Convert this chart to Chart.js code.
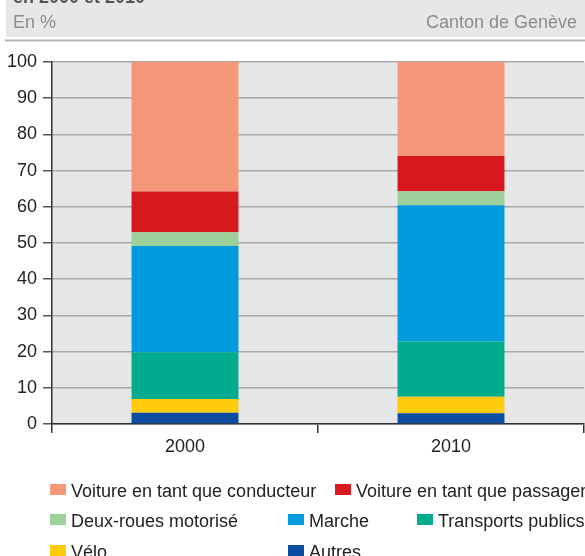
<!DOCTYPE html>
<html>
<head>
<meta charset="utf-8">
<script src="https://cdn.jsdelivr.net/npm/chart.js@4.4.0/dist/chart.umd.min.js"></script>
<style>
    body { margin: 0; background: #fff; overflow: hidden; }
    #wrap { position: relative; width: 585px; height: 556px; }
</style>
</head>
<body>
<div id="wrap"><canvas id="chart" width="585" height="556"></canvas></div>
<script>
// Part modale (en %), canton de Genève
const years = ['2000', '2010'];
const autres = [3.1, 3.0];
const velo = [3.8, 4.5];
const transportsPublics = [12.9, 15.3];
const marche = [29.4, 37.6];
const deuxRoues = [3.8, 3.9];
const passager = [11.2, 9.7];
const conducteur = [35.8, 26.0];

const titleText = 'en 2000 et 2010';
const unitText = 'En %';
const sourceText = 'Canton de Genève';

const FONT = '"Liberation Sans", Arial, sans-serif';

// stacked from bottom to top
const datasets = [
    { label: 'Autres', data: autres, backgroundColor: '#0c4da2' },
    { label: 'Vélo', data: velo, backgroundColor: '#ffcb0a' },
    { label: 'Transports publics', data: transportsPublics, backgroundColor: '#00ab8e' },
    { label: 'Marche', data: marche, backgroundColor: '#009bdc' },
    { label: 'Deux-roues motorisé', data: deuxRoues, backgroundColor: '#9dd09a' },
    { label: 'Voiture en tant que passager', data: passager, backgroundColor: '#d7191f' },
    { label: 'Voiture en tant que conducteur', data: conducteur, backgroundColor: '#f5987a' },
];

// legend placement: [dataset index, box x, text baseline]
const legendLayout = [
    [6, 50, 497], [5, 335, 497],
    [4, 50, 527], [3, 288, 527], [2, 417, 527],
    [1, 50, 558], [0, 288, 558],
];

const decorations = {
    id: 'decorations',
    beforeDraw(chart) {
        const ctx = chart.ctx;
        const a = chart.chartArea;
        ctx.save();
        // header band
        ctx.fillStyle = '#e6e7e8';
        ctx.fillRect(6, 0, 579, 37);
        ctx.fillStyle = '#b5b5b5';
        ctx.fillRect(5, 39.5, 580, 2);
        ctx.font = 'bold 18px ' + FONT;
        ctx.fillStyle = '#555';
        ctx.textBaseline = 'alphabetic';
        ctx.fillText(titleText, 13, 3);
        ctx.font = '18px ' + FONT;
        ctx.fillStyle = '#8c8c8c';
        ctx.fillText(unitText, 13, 28);
        ctx.textAlign = 'right';
        ctx.fillText(sourceText, 577, 28);
        // plot background
        ctx.fillStyle = '#e6e7e8';
        ctx.fillRect(a.left, a.top, a.right - a.left + 1, a.bottom - a.top);
        ctx.restore();
    },
    afterDraw(chart) {
        const ctx = chart.ctx;
        ctx.save();
        ctx.font = '18px ' + FONT;
        ctx.textBaseline = 'alphabetic';
        ctx.textAlign = 'left';
        for (const [i, x, y] of legendLayout) {
            const ds = chart.data.datasets[i];
            ctx.fillStyle = ds.backgroundColor;
            ctx.fillRect(x, y - 13, 16, 11);
            ctx.fillStyle = '#222';
            ctx.fillText(ds.label, x + 21, y);
        }
        ctx.restore();
    }
};

new Chart(document.getElementById('chart').getContext('2d'), {
    type: 'bar',
    data: {
        labels: years,
        datasets: datasets.map(d => ({
            ...d,
            borderWidth: 0,
            categoryPercentage: 1,
            barPercentage: 0.402,
        })),
    },
    options: {
        responsive: false,
        animation: false,
        layout: { padding: { top: 62, left: 0, right: 1, bottom: 0 } },
        plugins: {
            legend: { display: false },
            tooltip: { enabled: false },
        },
        scales: {
            x: {
                stacked: true,
                afterFit: s => { s.height = 132; },
                grid: {
                    offset: true,
                    drawOnChartArea: false,
                    tickLength: 9,
                    color: '#333',
                    lineWidth: 1.5,
                },
                border: { color: '#333', width: 1.5 },
                ticks: {
                    padding: 3,
                    color: '#222',
                    font: { family: FONT, size: 18 },
                },
            },
            y: {
                stacked: true,
                min: 0,
                max: 100,
                afterFit: s => { s.width = 52; },
                ticks: {
                    stepSize: 10,
                    padding: 6,
                    color: '#222',
                    font: { family: FONT, size: 18 },
                },
                grid: {
                    color: '#a8a8a8',
                    lineWidth: 1.5,
                    tickLength: 9,
                    tickColor: '#555',
                },
                border: { color: '#333', width: 1.5 },
            },
        },
    },
    plugins: [decorations],
});
</script>
</body>
</html>
